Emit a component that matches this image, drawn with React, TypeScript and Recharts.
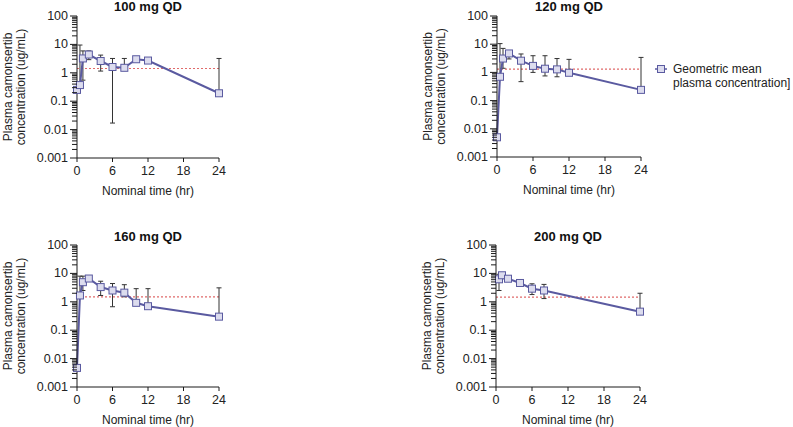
import React from 'react';
import { LineChart, Line, XAxis, YAxis, ErrorBar, ReferenceLine } from 'recharts';

// ---------- data ----------
const titles = ['100 mg QD', '120 mg QD', '160 mg QD', '200 mg QD'];
const xTicks = [0, 6, 12, 18, 24];
const yMajorTicks = [0.001, 0.01, 0.1, 1, 10, 100];
const yMinorMultipliers = [2, 3, 4, 5, 6, 7, 8, 9];

const times100 = [0, 0.5, 1, 2, 4, 6, 8, 10, 12, 24];
const mean100 = [0.25, 0.37, 3.2, 4.4, 2.6, 1.6, 1.5, 3.0, 2.7, 0.19];
const lower100 = [null, null, 0.55, 2.9, 1.15, 0.017, 1.2, null, null, null];
const upper100 = [null, 9.5, 5.9, 5.9, 4.2, 3.2, 3.2, null, null, 3.2];
const threshold100 = 1.42;

const times120 = [0, 0.5, 1, 2, 4, 6, 8, 10, 12, 24];
const mean120 = [0.005, 0.7, 3.1, 4.7, 2.6, 1.7, 1.35, 1.28, 0.97, 0.24];
const lower120 = [null, null, 1.4, 3.0, 0.47, 1.0, 0.75, 0.7, null, null];
const upper120 = [null, 10.5, 7.1, 5.9, 4.5, 3.9, 3.9, 3.1, 2.9, 3.4];
const threshold120 = 1.31;

const times160 = [0, 0.5, 1, 2, 4, 6, 8, 10, 12, 24];
const mean160 = [0.0047, 1.67, 4.9, 6.6, 3.3, 2.5, 2.1, 0.92, 0.7, 0.3];
const lower160 = [null, null, 2.5, 5.6, 1.67, 0.67, 1.5, null, null, null];
const upper160 = [null, 8.0, 8.0, 8.0, 5.3, 4.4, 4.0, 2.9, 2.9, 3.1];
const threshold160 = 1.5;

const times200 = [0.5, 1, 2, 4, 6, 8, 24];
const mean200 = [6.2, 8.6, 6.5, 4.6, 2.9, 2.5, 0.45];
const lower200 = [2.5, 6.5, 5.3, 3.5, 1.8, 1.3, null];
const upper200 = [9.3, 10.4, 8.0, 6.0, 4.3, 4.1, 2.0];
const threshold200 = 1.46;

// ---------- styles ----------
const FONT = "'Liberation Sans', Arial, Helvetica, sans-serif";
const LINE = '#5a5aa0';
const MARKER_FILL = '#dcdcee';
const ERR = '#333333';
const AXIS = '#1a1a1a';
const TEXT = '#222222';
const DASH = '#e06a6a';

type Num = number | null;

const buildRows = (times: number[], means: number[], lows: Num[], highs: Num[]) =>
  times.map((t, i) => {
    const lo = lows[i];
    const hi = highs[i];
    const m = means[i];
    const err = lo == null && hi == null ? null : [lo == null ? 0 : m - lo, hi == null ? 0 : hi - m];
    return { t, mean: m, err };
  });

// major tick with label; also draws the log-minor ticks of the decade below it
const makeYTick = (decadePx: number) => (props: any) => {
  const { x, y, payload } = props;
  const v = Number(payload.value);
  const isBottom = v <= yMajorTicks[0] * 1.0001;
  const ax = Number(x);
  const ay = Number(y);
  const minors = isBottom ? [] : yMinorMultipliers.map((k) => ay + (1 - Math.log10(k)) * decadePx);
  return (
    <g>
      <line x1={ax - 7} x2={ax} y1={ay} y2={ay} stroke={AXIS} strokeWidth={1} />
      {minors.map((yy, i) => (
        <line key={`m${i}`} x1={ax - 5} x2={ax} y1={yy} y2={yy} stroke={AXIS} strokeWidth={1} />
      ))}
      <text x={ax - 9} y={ay} textAnchor="end" dominantBaseline="central" fontSize={12.5} fill={TEXT} fontFamily={FONT}>
        {String(v)}
      </text>
    </g>
  );
};

const SquareDot = (props: any) => {
  const { cx, cy, index } = props;
  if (cx == null || cy == null) return <g key={`d-${index}`} />;
  return (
    <rect key={`d-${index}`} x={cx - 3.5} y={cy - 3.5} width={7} height={7} fill={MARKER_FILL} stroke={LINE} strokeWidth={1} />
  );
};

const ML = 77; // space left of plot inside each chart
const MT = 16;
const XH = 50;
const MR = 12;

type PanelProps = {
  rows: any[];
  threshold: number;
  plotLeft: number;
  plotTop: number;
  plotW: number;
  plotH: number;
};

const Panel = ({ rows, threshold, plotLeft, plotTop, plotW, plotH }: PanelProps) => {
  const W = ML + plotW + MR;
  const H = MT + plotH + XH;
  const cy = MT + plotH / 2;
  const YTick = makeYTick(plotH / (yMajorTicks.length - 1));
  return (
    <div style={{ position: 'absolute', left: plotLeft - ML, top: plotTop - MT }}>
      <LineChart width={W} height={H} data={rows} margin={{ top: MT, right: MR, bottom: 0, left: ML - 60 }}>
        <XAxis
          type="number"
          dataKey="t"
          domain={[0, 24]}
          ticks={xTicks}
          interval={0}
          height={XH}
          tickSize={4}
          tickMargin={4}
          axisLine={{ stroke: AXIS }}
          tickLine={{ stroke: AXIS }}
          tick={{ fontSize: 12.5, fill: TEXT, fontFamily: FONT }}
          label={{
            content: () => (
              <text x={ML + plotW / 2} y={MT + plotH + 33} textAnchor="middle" dominantBaseline="central" fontSize={12} fill={TEXT} fontFamily={FONT}>
                Nominal time (hr)
              </text>
            ),
          }}
        />
        <YAxis
          type="number"
          scale="log"
          domain={[0.001, 100]}
          ticks={yMajorTicks}
          interval={0}
          width={60}
          tickSize={0}
          tickMargin={0}
          tickLine={false}
          axisLine={{ stroke: AXIS }}
          tick={(p: any) => <YTick {...p} />}
          label={{
            content: () => (
              <g fontSize={12} fill={TEXT} fontFamily={FONT}>
                <text transform={`translate(${ML - 69},${cy}) rotate(-90)`} textAnchor="middle" dominantBaseline="central">
                  Plasma camonsertib
                </text>
                <text transform={`translate(${ML - 56},${cy}) rotate(-90)`} textAnchor="middle" dominantBaseline="central">
                  concentration (ug/mL)
                </text>
              </g>
            ),
          }}
        />
        <ReferenceLine y={threshold} stroke={DASH} strokeWidth={1.2} strokeDasharray="2 2" />
        <Line
          type="linear"
          dataKey="mean"
          stroke={LINE}
          strokeWidth={2}
          dot={(p: any) => <SquareDot {...p} key={`dot-${p.index}`} />}
          activeDot={false}
          isAnimationActive={false}
        >
          <ErrorBar dataKey="err" width={2.5} stroke={ERR} strokeWidth={1} direction="y" isAnimationActive={false} />
        </Line>
      </LineChart>
    </div>
  );
};

const panels = [
  { rows: buildRows(times100, mean100, lower100, upper100), threshold: threshold100, plotLeft: 77, plotTop: 16, plotW: 142, plotH: 142, titleY: 11 },
  { rows: buildRows(times120, mean120, lower120, upper120), threshold: threshold120, plotLeft: 497, plotTop: 16, plotW: 144, plotH: 141, titleY: 11 },
  { rows: buildRows(times160, mean160, lower160, upper160), threshold: threshold160, plotLeft: 77, plotTop: 245, plotW: 142, plotH: 142, titleY: 241 },
  { rows: buildRows(times200, mean200, lower200, upper200), threshold: threshold200, plotLeft: 496, plotTop: 245, plotW: 144, plotH: 142, titleY: 241 },
];

export default function App() {
  return (
    <div style={{ position: 'absolute', left: 0, top: 0, width: 793, height: 427, background: '#ffffff', overflow: 'hidden' }}>
      {panels.map((p, i) => (
        <Panel key={i} rows={p.rows} threshold={p.threshold} plotLeft={p.plotLeft} plotTop={p.plotTop} plotW={p.plotW} plotH={p.plotH} />
      ))}
      <svg width={793} height={427} style={{ position: 'absolute', left: 0, top: 0, pointerEvents: 'none' }}>
        {panels.map((p, i) => (
          <text key={i} x={p.plotLeft + p.plotW / 2} y={p.titleY} textAnchor="middle" fontSize={13} fontWeight="bold" fill="#111" fontFamily={FONT}>
            {titles[i]}
          </text>
        ))}
        <g>
          <line x1={655} x2={667} y1={69} y2={69} stroke={LINE} strokeWidth={1.5} />
          <rect x={657.5} y={65.5} width={7} height={7} fill={MARKER_FILL} stroke={LINE} strokeWidth={1} />
          <text x={673} y={73} fontSize={12} fill={TEXT} fontFamily={FONT}>Geometric mean</text>
          <text x={673} y={87} fontSize={12} fill={TEXT} fontFamily={FONT}>plasma concentration]</text>
        </g>
      </svg>
    </div>
  );
}
